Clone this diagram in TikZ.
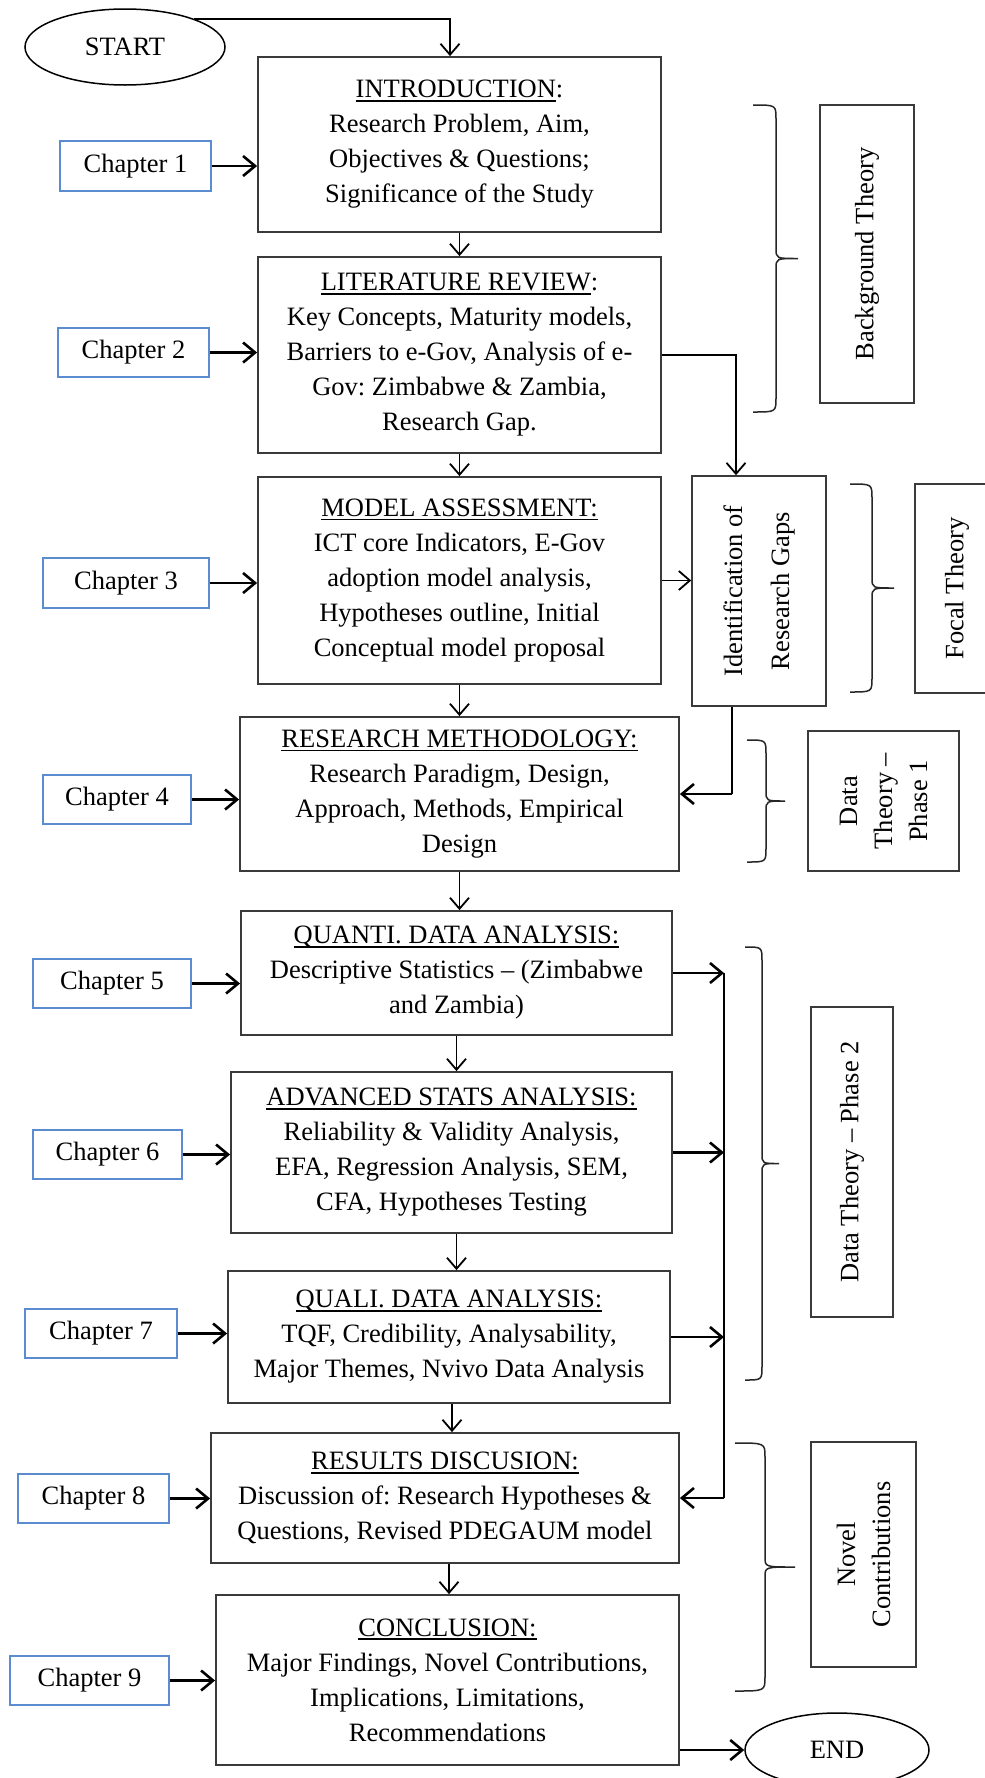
\documentclass[tikz,border=0pt]{standalone}
\usepackage{fontspec}
\setmainfont{Liberation Serif}
\usetikzlibrary{arrows.meta,shapes.geometric}
\frenchspacing

\definecolor{boxgray}{HTML}{3A3A3A}
\definecolor{chapblue}{HTML}{5B8BD0}

% underlined heading with a rule a little below the baseline
\newcommand\uln[1]{\leavevmode\setbox0=\hbox{#1}\rlap{\rule[-4pt]{\wd0}{1.8pt}}\box0}

% curly brace: end x, straight x, tip x, top y, bottom y
\newcommand\curlybrace[5]{%
  \pgfmathsetmacro\bracemid{(#4+#5)/2}%
  \draw[bracestyle] (#1,#4) .. controls (#2,#4) .. (#2,#4+14)
    -- (#2,\bracemid-10) .. controls (#2,\bracemid) .. (#3,\bracemid)
    .. controls (#2,\bracemid) .. (#2,\bracemid+10)
    -- (#2,#5-14) .. controls (#2,#5) .. (#1,#5);}

\begin{document}
\begin{tikzpicture}[x=1pt,y=-1pt,
  every node/.style={font=\fontsize{26.5}{35}\selectfont, inner sep=0pt},
  stage/.style={draw=boxgray, line width=1.8pt, align=center},
  chapterbox/.style={draw=chapblue, line width=1.4pt, minimum height=49pt},
  sidebox/.style={draw=boxgray, line width=1.6pt, align=center, rotate=90},
  terminal/.style={draw=black, line width=1.5pt, ellipse},
  flowarrow/.style={line width=1.8pt, -{Straight Barb[length=11pt,width=19pt]}},
  chapterarrow/.style={line width=2.6pt, -{Straight Barb[length=12pt,width=20pt]}},
  busline/.style={line width=1.8pt},
  bracestyle/.style={line width=1.5pt, draw=black!85},
]
\useasboundingbox (0,0) rectangle (985,1778);
\fill[white] (0,0) rectangle (985,1778);
\clip (0,0) rectangle (985,1778);

% start and end
\node[terminal, minimum width=200pt, minimum height=76pt] (start) at (125,47) {START};
\node[terminal, minimum width=184pt, minimum height=74pt] (end) at (837,1750) {END};

% main stages
\node[stage, minimum width=403pt, minimum height=175pt] (intro) at (459.5,144.5)
  {\uln{INTRODUCTION}:\\Research Problem, Aim,\\Objectives \& Questions;\\Significance of the Study};
\node[stage, minimum width=403pt, minimum height=196pt] (lit) at (459.5,355)
  {\uln{LITERATURE REVIEW}:\\Key Concepts, Maturity models,\\Barriers to e-Gov, Analysis of e-\\Gov: Zimbabwe \& Zambia,\\Research Gap.};
\node[stage, minimum width=403pt, minimum height=207pt] (model) at (459.5,580.5)
  {\uln{MODEL ASSESSMENT:}\\ICT core Indicators, E-Gov\\adoption model analysis,\\Hypotheses outline, Initial\\Conceptual model proposal};
\node[stage, minimum width=439pt, minimum height=154pt] (method) at (459.5,794)
  {\uln{RESEARCH METHODOLOGY:}\\Research Paradigm, Design,\\Approach, Methods, Empirical\\Design};
\node[stage, minimum width=431pt, minimum height=124pt] (quanti) at (456.5,973)
  {\uln{QUANTI. DATA ANALYSIS:}\\Descriptive Statistics -- (Zimbabwe\\and Zambia)};
\node[stage, minimum width=441pt, minimum height=161pt] (advanced) at (451.5,1152.5)
  {\uln{ADVANCED STATS ANALYSIS:}\\Reliability \& Validity Analysis,\\EFA, Regression Analysis, SEM,\\CFA, Hypotheses Testing};
\node[stage, minimum width=442pt, minimum height=132pt] (quali) at (449,1337)
  {\uln{QUALI. DATA ANALYSIS:}\\TQF, Credibility, Analysability,\\Major Themes, Nvivo Data Analysis};
\node[stage, minimum width=468pt, minimum height=130pt] (results) at (445,1498)
  {\uln{RESULTS DISCUSION:}\\Discussion of: Research Hypotheses \&\\Questions, Revised PDEGAUM model};
\node[stage, minimum width=463pt, minimum height=170pt] (conclusion) at (447.5,1680)
  {\uln{CONCLUSION:}\\Major Findings, Novel Contributions,\\Implications, Limitations,\\Recommendations};

% chapter labels
\node[chapterbox, minimum width=151pt, minimum height=50pt] (ch1) at (135.5,166) {Chapter 1};
\node[chapterbox, minimum width=151pt] (ch2) at (133.5,352.5) {Chapter 2};
\node[chapterbox, minimum width=166pt, minimum height=50pt] (ch3) at (126,583) {Chapter 3};
\node[chapterbox, minimum width=148pt] (ch4) at (117,799.5) {Chapter 4};
\node[chapterbox, minimum width=158pt] (ch5) at (112,983.5) {Chapter 5};
\node[chapterbox, minimum width=149pt] (ch6) at (107.5,1154.5) {Chapter 6};
\node[chapterbox, minimum width=152pt] (ch7) at (101,1333.5) {Chapter 7};
\node[chapterbox, minimum width=151pt] (ch8) at (93.5,1498.5) {Chapter 8};
\node[chapterbox, minimum width=159pt] (ch9) at (89.5,1680.5) {Chapter 9};

% side labels (vertical text; rotated nodes, so east is the top edge)
\node[sidebox, minimum width=230pt, minimum height=134pt] (gaps) at (759,591)
  {Identification of\\[12pt]Research Gaps};
\node[sidebox, minimum width=298pt, minimum height=94pt] (background) at (867,254) {Background Theory};
\node[sidebox, minimum width=209pt, minimum height=84pt] (focal) at (957,588.5) {Focal Theory};
\node[sidebox, minimum width=140pt, minimum height=151pt] (phaseone) at (883.5,801)
  {Data\\Theory --\\Phase 1};
\node[sidebox, minimum width=310pt, minimum height=82pt] (phasetwo) at (852,1162) {Data Theory -- Phase 2};
\node[sidebox, minimum width=225pt, minimum height=105pt] (novel) at (863.5,1554.5)
  {Novel\\Contributions};

% main flow
\draw[flowarrow] (start.22) -| ([xshift=-9.5pt]intro.north);
\draw[flowarrow] (intro.south) -- (lit.north);
\draw[flowarrow] (lit.south) -- (model.north);
\draw[flowarrow] (model.south) -- (method.north);
\draw[flowarrow] (method.south) -- (method.south |- quanti.north);
\draw[flowarrow] (quanti.south) -- (quanti.south |- advanced.north);
\draw[flowarrow] ([xshift=5pt]advanced.south) -- ([xshift=5pt]advanced.south |- quali.north);
\draw[flowarrow] ([xshift=3pt]quali.south) -- ([xshift=3pt]quali.south |- results.north);
\draw[flowarrow] ([xshift=4pt]results.south) -- ([xshift=4pt]results.south |- conclusion.north);
\draw[chapterarrow] (end.west -| conclusion.east) -- (end.west);

% chapter arrows
\draw[chapterarrow] (ch1.east) -- (ch1.east -| intro.west);
\draw[chapterarrow] (ch2.east) -- (ch2.east -| lit.west);
\draw[chapterarrow] (ch3.east) -- (ch3.east -| model.west);
\draw[chapterarrow] (ch4.east) -- (ch4.east -| method.west);
\draw[chapterarrow] (ch5.east) -- (ch5.east -| quanti.west);
\draw[chapterarrow] (ch6.east) -- (ch6.east -| advanced.west);
\draw[chapterarrow] (ch7.east) -- (ch7.east -| quali.west);
\draw[chapterarrow] (ch8.east) -- (ch8.east -| results.west);
\draw[chapterarrow] (ch9.east) -- (ch9.east -| conclusion.west);

% research gaps loop
\draw[flowarrow] (lit.east) -| ([xshift=-23pt]gaps.east);
\draw[flowarrow] (model.east) -- (model.east -| gaps.north);
\draw[busline] ([xshift=-27pt]gaps.west) -- ([xshift=-27pt]gaps.west |- method.east);
\draw[chapterarrow] ([xshift=-27pt]gaps.west |- method.east) -- (method.east);

% data analysis bus into the results
\coordinate (bus) at (724,979);
\draw[chapterarrow] (quanti.east) -- (quanti.east -| bus);
\draw[chapterarrow] (advanced.east) -- (advanced.east -| bus);
\draw[chapterarrow] (quali.east) -- (quali.east -| bus);
\draw[busline] (quanti.east -| bus) -- (results.east -| bus);
\draw[chapterarrow] (results.east -| bus) -- (results.east);

% braces grouping the chapters
\curlybrace{753}{776}{798}{105}{412}
\curlybrace{850}{872}{894}{484}{692}
\curlybrace{747}{766}{785}{740}{862}
\curlybrace{745}{762}{779}{947}{1380}
\curlybrace{735}{765}{795}{1443}{1691}
\end{tikzpicture}
\end{document}
